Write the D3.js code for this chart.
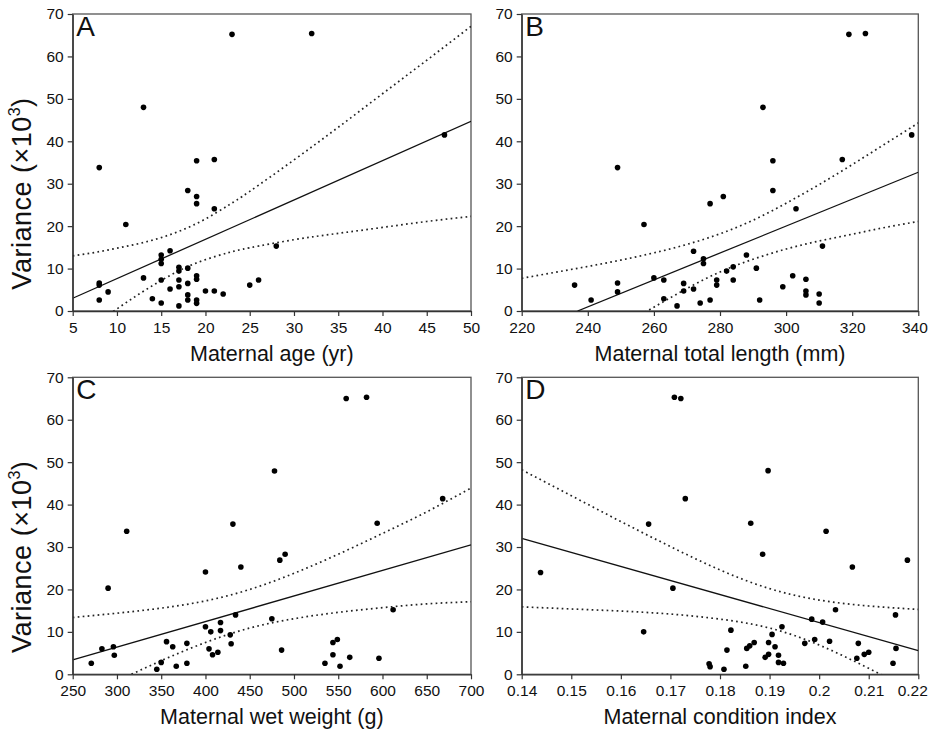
<!DOCTYPE html>
<html>
<head>
<meta charset="utf-8">
<script src="https://cdn.jsdelivr.net/npm/d3@7"></script>
<style>
  body { margin: 0; background: #fff; }
  svg text { font-family: "Liberation Sans", Arial, Helvetica, sans-serif; fill: #111; }
</style>
</head>
<body>
<svg width="931" height="734"></svg>
<script>

// panel A - maternal age (yr) vs variance
var ageData = [[23,65.2],[32,65.4],[13,48.0],[8,33.8],[19,35.4],[21,35.7],[18,28.4],[19,27.0],[19,25.3],[21,24.1],
  [11,20.4],[16,14.2],[15,13.2],[15,12.2],[15,11.2],[17,10.3],[17,9.4],[18,10.1],[13,7.8],[15,7.3],[17,7.3],[19,8.3],
  [19,7.5],[8,6.6],[8,6.1],[18,6.5],[9,4.5],[16,5.2],[17,5.7],[20,4.7],[21,4.7],[22,4.0],[8,2.6],[14,2.9],[15,1.9],
  [18,3.8],[18,2.6],[19,2.6],[19,1.8],[17,1.2],[25,6.1],[26,7.3],[47,41.5],[28,15.3]];
var ageFit = [[5,3.0],[50,44.7]];
var ageBandX = [5,7.5,10,12.5,15,17.5,20,22.5,25,30,35,40,45,50];
var ageUpper = [13.0,13.8,14.8,15.9,17.3,19.2,21.7,24.8,28.2,35.6,43.3,51.2,59.1,67.1];
var ageLower = [-7.0,-3.2,0.5,4.0,7.2,10.0,12.1,13.7,14.9,16.8,18.3,19.7,21.1,22.3];

// panel B - maternal total length (mm)
var lengthData = [[249,33.8],[277,25.3],[257,20.4],[272,14.1],[275,12.3],[275,11.2],[236,6.1],[249,6.6],[249,4.5],
  [260,7.8],[263,7.3],[263,2.9],[241,2.6],[269,6.5],[269,4.7],[272,5.2],[267,1.2],[274,1.9],[277,2.6],[279,7.3],
  [279,6.1],[319,65.2],[324,65.4],[293,48.0],[281,27.0],[296,35.4],[296,28.4],[317,35.7],[303,24.1],[338,41.5],
  [311,15.3],[288,13.2],[291,10.1],[284,10.4],[282,9.4],[284,7.3],[302,8.3],[299,5.7],[306,7.5],[306,4.7],
  [306,3.8],[310,4.0],[310,1.9],[292,2.6]];
var lengthFit = [[236.9,0],[340,32.7]];
var lengthBandX = [220,230,240,250,260,270,280,290,300,310,320,330,340];
var lengthUpper = [7.7,9.1,10.5,12.0,13.7,15.7,18.2,21.4,25.4,29.8,34.5,39.4,44.3];
var lengthLower = [-18.4,-13.5,-8.6,-3.7,0.9,5.3,9.2,12.2,14.6,16.5,18.1,19.7,21.1];

// panel C - maternal wet weight (g)
var weightData = [[311,33.7],[290,20.3],[431,35.4],[440,25.3],[400,24.1],[434,14.0],[271,2.6],[283,6.0],[296,6.5],
  [297,4.5],[345,1.2],[350,2.8],[356,7.7],[363,6.5],[367,1.9],[379,7.3],[379,2.6],[400,11.2],[406,10.0],[404,6.0],
  [408,4.6],[414,5.2],[417,12.2],[417,10.3],[428,9.3],[429,7.2],[559,65.0],[582,65.3],[478,47.9],[594,35.6],
  [668,41.4],[484,26.9],[490,28.3],[475,13.1],[612,15.2],[486,5.7],[544,7.5],[549,8.2],[544,4.6],[535,2.6],
  [552,1.9],[563,4.0],[596,3.8]];
var weightFit = [[250,3.4],[700,30.5]];
var weightBandX = [250,300,350,400,450,500,550,600,650,700];
var weightUpper = [13.4,14.4,15.6,17.3,20.0,23.8,28.3,33.2,38.3,43.9];
var weightLower = [-6.6,-1.6,3.2,7.5,10.9,13.1,14.6,15.7,16.6,17.1];

// panel D - maternal condition index
var condData = [[0.1708,65.3],[0.1721,65.0],[0.1730,41.4],[0.1656,35.4],[0.1438,24.0],[0.1705,20.3],[0.1646,10.0],
  [0.1778,2.5],[0.1780,1.8],[0.1897,48.0],[0.1862,35.6],[0.2014,33.7],[0.1886,28.3],[0.2067,25.3],[0.2178,26.9],
  [0.2033,15.2],[0.2154,14.0],[0.1985,13.0],[0.2007,12.3],[0.1925,11.2],[0.1822,10.4],[0.1905,9.4],[0.1898,7.5],
  [0.1971,7.3],[0.1991,8.2],[0.2021,7.8],[0.2079,7.3],[0.1869,7.5],[0.1860,6.7],[0.1854,6.1],[0.1814,5.7],
  [0.1911,6.5],[0.1891,4.0],[0.1898,4.7],[0.1918,4.5],[0.1918,2.8],[0.1928,2.6],[0.2091,4.7],[0.2100,5.2],
  [0.2076,3.8],[0.2155,6.1],[0.2149,2.6],[0.1852,1.9],[0.1808,1.2]];
var condFit = [[0.14,32.05],[0.22,5.56]];
var condBandX = [0.14,0.15,0.16,0.17,0.18,0.19,0.20,0.21,0.22];
var condUpper = [48.2,42.1,36.0,30.1,24.6,20.2,17.5,16.1,15.3];
var condLower = [15.9,15.4,14.9,14.2,13.0,10.9,6.9,1.4,-4.4];

var varianceTicks = [0,10,20,30,40,50,60,70];

var svg = d3.select("svg");

var panels = [
  {id:"A", data:ageData, fit:ageFit, bx:ageBandX, up:ageUpper, lo:ageLower,
   xd:[5,50], ticks:d3.range(5,51,5), fmt:d3.format("d"), title:"Maternal age (yr)",
   left:72.7, right:471, top:14, bottom:311, ytitle:true},
  {id:"B", data:lengthData, fit:lengthFit, bx:lengthBandX, up:lengthUpper, lo:lengthLower,
   xd:[220,340], ticks:d3.range(220,341,20), fmt:d3.format("d"), title:"Maternal total length (mm)",
   left:521.7, right:918.3, top:14, bottom:311, ytitle:false},
  {id:"C", data:weightData, fit:weightFit, bx:weightBandX, up:weightUpper, lo:weightLower,
   xd:[250,700], ticks:d3.range(250,701,50), fmt:d3.format("d"), title:"Maternal wet weight (g)",
   left:72.7, right:471, top:377.3, bottom:674.3, ytitle:true},
  {id:"D", data:condData, fit:condFit, bx:condBandX, up:condUpper, lo:condLower,
   xd:[0.14,0.22], ticks:[0.14,0.15,0.16,0.17,0.18,0.19,0.2,0.21,0.22], fmt:function(d){ return d3.format(".2f")(d).replace(/0$/,"").replace(/\.$/,""); },
   title:"Maternal condition index",
   left:521.7, right:918.3, top:377.3, bottom:674.3, ytitle:false}
];

var defs = svg.append("defs");

panels.forEach(function(p){
  var x = d3.scaleLinear().domain(p.xd).range([p.left, p.right]);
  var y = d3.scaleLinear().domain([0,70]).range([p.bottom, p.top]);

  defs.append("clipPath").attr("id","clip"+p.id)
    .append("rect")
    .attr("x", p.left).attr("y", p.top)
    .attr("width", p.right - p.left).attr("height", p.bottom - p.top);

  var g = svg.append("g");

  // frame
  g.append("rect")
    .attr("x", p.left).attr("y", p.top)
    .attr("width", p.right - p.left).attr("height", p.bottom - p.top)
    .attr("fill","none").attr("stroke","#555").attr("stroke-width",1.3);

  var plot = g.append("g").attr("clip-path","url(#clip"+p.id+")");

  var band = d3.line().curve(d3.curveNatural)
    .x(function(d){ return x(d[0]); })
    .y(function(d){ return y(d[1]); });

  [p.up, p.lo].forEach(function(arr){
    plot.append("path")
      .datum(p.bx.map(function(v,i){ return [v, arr[i]]; }))
      .attr("d", band)
      .attr("fill","none")
      .attr("stroke","#222")
      .attr("stroke-width",1.7)
      .attr("stroke-dasharray","1.7,3.3");
  });

  plot.append("line")
    .attr("x1", x(p.fit[0][0])).attr("y1", y(p.fit[0][1]))
    .attr("x2", x(p.fit[1][0])).attr("y2", y(p.fit[1][1]))
    .attr("stroke","#111").attr("stroke-width",1.3);

  g.append("g").selectAll("circle")
    .data(p.data)
    .enter()
    .append("circle")
    .attr("cx", function(d){ return x(d[0]); })
    .attr("cy", function(d){ return y(d[1]); })
    .attr("r", 2.8)
    .attr("fill","#000");

  var xa = g.append("g")
    .attr("transform","translate(0,"+p.bottom+")")
    .call(d3.axisBottom(x).tickValues(p.ticks).tickFormat(p.fmt).tickSize(5).tickSizeOuter(0).tickPadding(6));
  var ya = g.append("g")
    .attr("transform","translate("+p.left+",0)")
    .call(d3.axisLeft(y).tickValues(varianceTicks).tickSize(5).tickSizeOuter(0).tickPadding(4));

  [xa, ya].forEach(function(a){
    a.select(".domain").attr("stroke","#333").attr("stroke-width",1.3);
    a.selectAll(".tick line").attr("stroke","#333").attr("stroke-width",1.2);
    a.selectAll(".tick text").attr("font-size",15.5).attr("fill","#111")
      .style("font-family","'Liberation Sans', Arial, sans-serif");
  });

  // keep the last label of the right panels inside the page
  if(p.right > 900){
    xa.selectAll(".tick text").filter(function(d,i,n){ return i === n.length - 1; })
      .attr("text-anchor","end").attr("dx", 9);
  }

  g.append("text")
    .attr("x", p.left + 3.5).attr("y", p.top + 22)
    .attr("font-size", 28)
    .text(p.id);

  g.append("text")
    .attr("x", (p.left + p.right)/2).attr("y", p.bottom + 50)
    .attr("text-anchor","middle")
    .attr("font-size", 21.5)
    .text(p.title);

  if(p.ytitle){
    var t = g.append("text")
      .attr("transform","translate(31,"+((p.top+p.bottom)/2 + 31)+") rotate(-90)")
      .attr("text-anchor","middle")
      .attr("font-size", 27)
      .attr("letter-spacing", 0.5);
    t.append("tspan").text("Variance (×10");
    t.append("tspan").attr("font-size", 16).attr("dy", -11).text("3");
    t.append("tspan").attr("dy", 11).text(")");
  }
});

</script>
</body>
</html>
